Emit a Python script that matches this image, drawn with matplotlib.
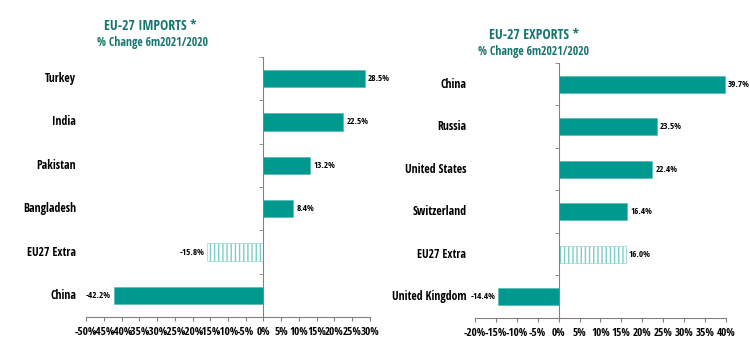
import matplotlib.pyplot as plt
import numpy as np

plt.rcParams['font.family'] = ['Open Sans Condensed', 'DejaVu Sans']
plt.rcParams['font.weight'] = 'bold'

imp_countries = ['Turkey', 'India', 'Pakistan', 'Bangladesh', 'EU27 Extra', 'China']
imp_values = [28.5, 22.5, 13.2, 8.4, -15.8, -42.2]

exp_countries = ['China', 'Russia', 'United States', 'Switzerland', 'EU27 Extra', 'United Kingdom']
exp_values = [39.7, 23.5, 22.4, 16.4, 16.0, -14.4]

imp_ticks = list(range(-50, 31, 5))
exp_ticks = list(range(-20, 41, 5))

teal = '#009990'
hatch_col = '#7fcdc8'
title_col = '#17756f'


def draw_panel(ax, names, values, ticks, hatched='EU27 Extra'):
    y = np.arange(len(names))[::-1]
    span = ticks[-1] - ticks[0]
    for yi, name, v in zip(y, names, values):
        if name == hatched:
            ax.barh(yi, v, height=0.4, color='white', edgecolor=hatch_col,
                    hatch='||||', linewidth=0.4)
        else:
            ax.barh(yi, v, height=0.4, color=teal, edgecolor='#5ab8b2', linewidth=0.5)
        off = span * 0.012
        if v >= 0:
            ax.text(v + off, yi, f'{v:.1f}%', va='center', ha='left', fontsize=6.5)
        else:
            ax.text(v - off, yi, f'{v:.1f}%', va='center', ha='right', fontsize=6.5)
        ax.text(-0.035, yi, name, transform=ax.get_yaxis_transform(),
                va='center', ha='right', fontsize=8.5)

    ax.set_ylim(-0.5, len(names) - 0.5)
    ax.set_xlim(ticks[0], ticks[-1])
    ax.set_xticks(ticks)
    ax.set_xticklabels([f'{t}%' for t in ticks], fontsize=8)
    ax.set_yticks([])
    ax.set_yticks(np.arange(len(names) + 1) - 0.5, minor=True)
    ax.tick_params(axis='y', which='minor', length=3, direction='out', color='#808080')
    ax.tick_params(axis='x', length=3, color='#808080', pad=4)
    ax.spines['left'].set_position(('data', 0))
    ax.spines['left'].set_color('#808080')
    ax.spines['bottom'].set_color('#808080')
    ax.spines['top'].set_visible(False)
    ax.spines['right'].set_visible(False)


fig = plt.figure(figsize=(7.5, 3.6), dpi=100)
ax1 = fig.add_axes([0.1147, 0.1194, 0.3786, 0.7223])
ax2 = fig.add_axes([0.6333, 0.1167, 0.3347, 0.7083])

draw_panel(ax1, imp_countries, imp_values, imp_ticks)
draw_panel(ax2, exp_countries, exp_values, exp_ticks)

fig.text(0.200, 0.928, 'EU-27 IMPORTS *', ha='center', va='center',
         fontsize=10, color=title_col)
fig.text(0.203, 0.882, '% Change 6m2021/2020', ha='center', va='center',
         fontsize=8.5, color=title_col)
fig.text(0.712, 0.903, 'EU-27 EXPORTS *', ha='center', va='center',
         fontsize=10, color=title_col)
fig.text(0.712, 0.857, '% Change 6m2021/2020', ha='center', va='center',
         fontsize=8.5, color=title_col)

plt.savefig('out.png', dpi=100)
